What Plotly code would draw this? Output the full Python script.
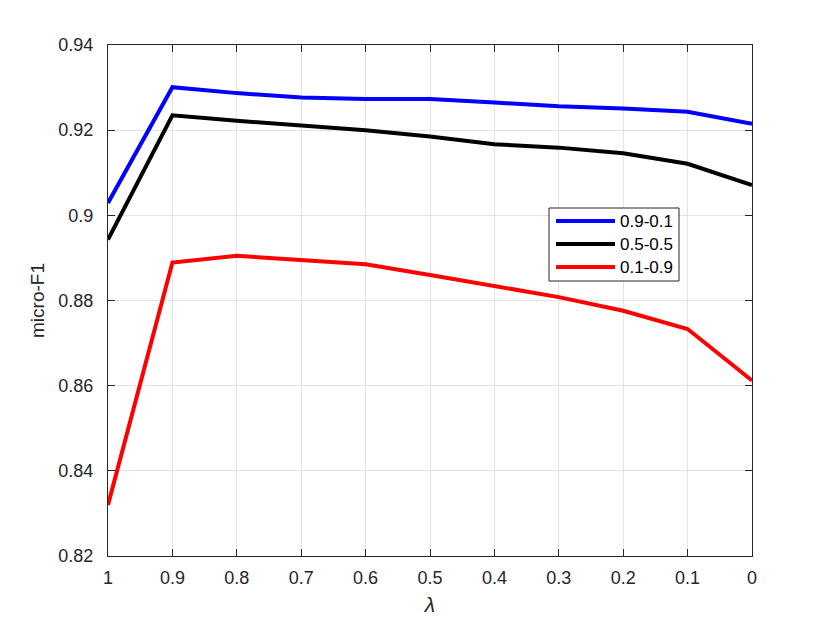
import plotly.graph_objects as go

# lambda values on the x axis (shown reversed, 1 -> 0)
lam = [1, 0.9, 0.8, 0.7, 0.6, 0.5, 0.4, 0.3, 0.2, 0.1, 0]
lam_labels = ["1", "0.9", "0.8", "0.7", "0.6", "0.5", "0.4", "0.3", "0.2", "0.1", "0"]

# micro-F1 per split
f1_09_01 = [0.9029, 0.9301, 0.9287, 0.9277, 0.9273, 0.9273, 0.9265, 0.9256, 0.9251, 0.9243, 0.9215]
f1_05_05 = [0.8943, 0.9235, 0.9222, 0.9210, 0.9200, 0.9185, 0.9167, 0.9159, 0.9146, 0.9121, 0.9071]
f1_01_09 = [0.8320, 0.8889, 0.8905, 0.8895, 0.8885, 0.8860, 0.8835, 0.8808, 0.8776, 0.8733, 0.8612]

y_ticks = [0.82, 0.84, 0.86, 0.88, 0.90, 0.92, 0.94]
y_labels = ["0.82", "0.84", "0.86", "0.88", "0.9", "0.92", "0.94"]

series = [
    ("0.9-0.1", f1_09_01, "#0000ff"),
    ("0.5-0.5", f1_05_05, "#000000"),
    ("0.1-0.9", f1_01_09, "#ff0000"),
]

fig = go.Figure()
for name, vals, color in series:
    fig.add_trace(go.Scatter(x=lam, y=vals, mode="lines", name=name,
                             line=dict(color=color, width=4), showlegend=False))

axis_style = dict(
    showline=True, linecolor="#262626", linewidth=1, mirror="ticks",
    ticks="inside", ticklen=7, tickcolor="#262626",
    showgrid=True, gridcolor="#e3e3e3", gridwidth=1,
    zeroline=False, tickfont=dict(size=18, color="#262626"),
)

fig.update_xaxes(range=[1, 0], tickvals=lam, ticktext=lam_labels, ticklabelstandoff=5,
                 title=dict(text="<i>λ</i>", font=dict(size=21, color="#262626"), standoff=10),
                 **axis_style)
fig.update_yaxes(range=[0.82, 0.94], tickvals=y_ticks, ticktext=y_labels, ticklabelstandoff=10,
                 title=dict(text="micro-F1", font=dict(size=19, color="#262626"), standoff=8),
                 **axis_style)

# MATLAB-style legend box (long sample lines, tight rows), placed in plot-area pixels
plot_w, plot_h = 644, 511
def px(x):
    return x / plot_w
def py(y):
    return 1 - y / plot_h

box_l, box_r, box_t, box_b = 441, 571, 163, 236
row0, row_step = 176, 23
fig.add_shape(type="rect", xref="paper", yref="paper",
              x0=px(box_l), x1=px(box_r), y0=py(box_b), y1=py(box_t),
              fillcolor="white", line=dict(color="#262626", width=1))
for i, (name, vals, color) in enumerate(series):
    ry = py(row0 + i * row_step)
    fig.add_shape(type="line", xref="paper", yref="paper",
                  x0=px(448), x1=px(507), y0=ry, y1=ry,
                  line=dict(color=color, width=4))
    fig.add_annotation(xref="paper", yref="paper", x=px(510), y=ry,
                       text=name, showarrow=False, xanchor="left", yanchor="middle",
                       font=dict(size=17, color="#000000"))

# page body has an 8px margin, so the figure is sized to fit inside the window
fig.update_layout(
    width=822, height=615,
    margin=dict(l=100, r=78, t=37, b=67),
    paper_bgcolor="white", plot_bgcolor="white",
    font=dict(family="Liberation Sans, Arial, sans-serif", color="#262626"),
)

fig.write_html("out.html")
